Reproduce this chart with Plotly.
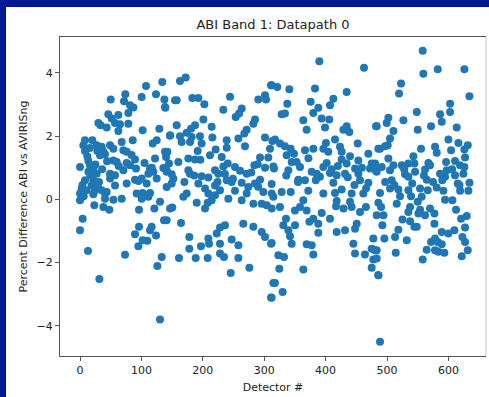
import plotly.graph_objects as go

# Detector index and percent difference
detector = [
    134, 107.5, 100.4, 123.8, 137.4, 139, 50, 73.8, 71.7, 81.4, 86.9, 78.7, 46.1, 51.6, 62.4, 29.9,
    33.6, 57, 65.1, 78.7, 43.4, 62.4, 102, 129.2, 146.6, 124.9, 118.4, 85.8, 67.9, 8.1, 20.1, 5.4,
    27.1, 35.3, 48.9, 54.3, 8.1, 28.2, 38, 70.6, 76, 32.6, 40.7, 142.3, 122.2, 140.1, 89.6, 54.3,
    59.7, 13.6, 76, 0, 16.3, 21.7, 81.4, 91.2, 70.6, 114, 135.7, 13.6, 27.1, 48.9, 57, 111.3,
    124.9, 119.4, 141.2, 8.1, 21.7, 48.9, 76, 89.6, 95, 100.4, 108.6, 57, 2.7, 19, 10.8, 24.4,
    35.3, 43.4, 0, 21.7, 40.7, 92.3, 102, 114, 111.3, 100.4, 54.3, 67.9, 0, 40.7, 130.3, 23.3,
    38, 47.8, 96.1, 121.1, 146.6, 136.8, 4.3, 0, 96.1, 89.6, 116.7, 114, 123.8, 102, 109.7, 95,
    13, 73.3, 133, 126, 31.5, 130.3,
    162.8, 172.1, 157.4, 154.7, 182.9, 192.7, 202.5, 244.3, 233.4, 253.5, 263.3, 259, 301.3, 290.4,
    302.9, 311.1, 138.4, 200.9, 285, 282.3, 157.4, 187.3, 180.8, 214.4, 173.7, 146.5, 162.8, 271.4,
    267.6, 257.9, 301.3, 195.4, 181.8, 215.5, 165.5, 179.1, 198.1, 238.9, 238.9, 268.7, 313.3, 191.6,
    220.9, 138.4, 211.7, 230.7, 176.4, 160.1, 144.9, 187.3, 240.5, 233.4, 293.2, 306.7, 289.4, 283.9,
    301.3, 314.9, 141.1, 176.4, 179.1, 219.9, 252.4, 260.6, 271.4, 225.3, 149.3, 198.1, 209, 238.9,
    247, 263.3, 285, 293.2, 149.3, 192.7, 219.9, 274.1, 141.1, 228, 203.6, 252.4, 173.7, 271.4,
    298.6, 312.2, 209, 219.9, 168.3, 241.6, 263.3, 214.4, 190, 207.9, 282.3, 295.9, 304, 150.3,
    203.6, 312.2, 141.1, 164.5, 228, 236.1, 266, 282.3, 295.9, 301.3, 311.1, 178, 209, 222.6,
    247, 257.9, 178, 197, 210.1, 228, 228, 234.5, 161.2, 188.4, 207.9, 257.9, 275.8, 245.4,
    314.9, 311.1,
    389.8, 462.5, 312.1, 321.3, 340.9, 382.7, 434.3, 375.6, 412.6, 407.1, 337.6, 388.1, 380, 328.4,
    333.8, 393.6, 406, 363.7, 369.1, 399, 434.3, 428.9, 438.6, 482.1, 415.3, 452.2, 317.5, 325.7,
    333.8, 309.4, 343.1, 366.4, 380, 400.6, 396.3, 423.4, 426.1, 348.5, 336.5, 404.4, 439.7, 469.6,
    485.9, 352.8, 344.7, 401.7, 426.1, 434.3, 453.3, 475, 315.9, 339.3, 358.3, 377.3, 385.4, 396.3,
    407.1, 418, 431.6, 447.9, 453.3, 472.3, 482.1, 355.6, 366.4, 390.8, 412.6, 456, 469.6, 312.1,
    328.4, 343.1, 371.8, 396.3, 415.3, 426.1, 442.4, 461.4, 314.8, 363.7, 418, 439.7, 325.7, 358.3,
    416.9, 429.1, 442.4, 465.7, 350.1, 369.1, 393.6, 456, 335.5, 380, 407.1, 483.2, 331.1, 350.1,
    373.5, 388.1, 450.6, 447.9, 339.3, 388.1, 418, 431.6, 342, 477.7, 344.7, 369.1, 377.3, 312.1,
    445.2, 447.9, 464.1, 475, 480.4, 380, 323, 332.2, 477.7, 475, 485.9, 324.6, 363.7, 317.5,
    330, 312.1,
    558.1, 559.2, 582.6, 626, 522.9, 519.6, 634.2, 602.7, 602.7, 586.4, 589.1, 548.4, 526.7, 502.2,
    499.5, 483.2, 571.7, 550, 613.5, 510.4, 504.9, 600, 616.3, 631.5, 501.1, 488.6, 496.8, 555.4,
    578.2, 581, 604.3, 626, 502.2, 542.9, 627.1, 480.5, 491.4, 510.4, 524, 534.8, 544.6, 567.4,
    596.2, 610.8, 619, 626, 483.2, 504.9, 529.4, 545.7, 561.9, 570.1, 586.4, 597.2, 594.5, 610.8,
    624.4, 507.6, 534.8, 564.7, 634.2, 615.2, 504.9, 518.5, 534.8, 553.8, 566.3, 580.9, 591.8, 619,
    632.5, 488.6, 521.2, 539.1, 556.5, 594.5, 606.5, 485.9, 515.8, 550, 537.5, 490.3, 553.8, 570.1,
    612.4, 494.1, 534.8, 561.9, 577.2, 525.1, 551.1, 620.6, 629.8, 492.4, 537.5, 544.6, 577.2, 518.5,
    548.4, 627.1, 589.1, 600, 609.7, 513.1, 495.7, 532.1, 622.8, 578.2, 571.7, 582.6, 589.1, 627.1,
    564.6, 578.2, 583.7, 593.4, 514.2, 483.2, 631.5, 621.7, 558.1, 483.2, 485.9, 488.6,
    # overlapping points inside the dense band
    4, 12, 17, 25, 31, 36, 44, 16, 6, 29, 63, 84, 105, 117, 152, 170, 186, 196, 224, 236,
    249, 279, 290, 336, 355, 372, 384, 410, 420, 436, 447, 459, 466, 497, 512, 528, 541, 560, 575, 590,
    606, 618,
]

pct_diff = [
    3.71, 3.58, 3.23, 3.32, 3.15, 2.89, 3.15, 3.32, 3.10, 2.97, 2.90, 2.73, 2.69, 2.55, 2.66, 2.41,
    2.34, 2.41, 2.37, 2.39, 2.27, 2.16, 2.18, 2.23, 2.02, 1.87, 1.76, 1.87, 1.81, 1.87, 1.87, 1.71,
    1.71, 1.66, 1.71, 1.60, 1.53, 1.53, 1.50, 1.55, 1.50, 1.39, 1.42, 1.50, 1.29, 1.34, 1.26, 1.23,
    1.18, 1.21, 1.15, 1.02, 1.08, 0.97, 1.08, 0.97, 0.92, 0.97, 0.99, 0.87, 0.81, 0.81, 0.76, 0.81,
    0.66, 0.87, 0.87, 0.60, 0.60, 0.66, 0.50, 0.62, 0.58, 0.66, 0.50, 0.44, 0.34, 0.44, 0.29, 0.29,
    0.29, 0.23, 0.18, 0.16, 0.18, 0.18, 0.20, 0.20, 0.08, 0.02, -0.01, 0.02, -0.03, 0.02, -0.08, -0.19,
    -0.24, -0.33, -0.33, -0.29, -0.29, -0.66, -0.61, -0.98, -0.87, -1.10, -0.87, -0.98, -1.14, -1.29, -1.31, -1.48,
    -1.63, -1.75, -1.82, -2.11, -2.52, -3.80,
    3.74, 3.85, 3.13, 3.13, 3.20, 3.20, 3.00, 3.24, 2.83, 2.60, 2.87, 2.71, 3.29, 3.15,
    3.15, 3.60, 2.92, 2.52, 2.52, 2.39, 2.34, 2.34, 2.23, 2.29, 2.10, 2.02, 1.99, 2.20,
    2.08, 1.92, 1.95, 1.99, 1.97, 1.95, 1.81, 1.81, 1.76, 1.87, 1.63, 1.68, 1.84, 1.53,
    1.57, 1.50, 1.39, 1.34, 1.29, 1.18, 1.13, 1.26, 1.13, 1.04, 1.32, 1.32, 1.11, 1.08,
    1.00, 1.04, 0.92, 0.92, 0.81, 0.92, 1.02, 0.90, 0.81, 0.81, 0.79, 0.73, 0.69, 0.60,
    0.55, 0.52, 0.50, 0.62, 0.50, 0.50, 0.44, 0.39, 0.39, 0.29, 0.34, 0.27, 0.18, 0.18,
    0.23, 0.18, 0.18, 0.13, 0.08, 0.02, -0.03, -0.03, -0.11, -0.11, -0.14, -0.14, -0.19, -0.26,
    -0.29, -0.29, -0.66, -0.75, -0.89, -0.82, -0.77, -0.87, -1.03, -1.19, -1.40, -1.19, -1.24, -1.08,
    -1.27, -1.45, -1.56, -1.48, -1.40, -1.40, -1.71, -1.82, -1.85, -1.85, -1.85, -1.85, -2.16, -2.33,
    -2.64, -3.10,
    4.36, 4.16, 3.60, 3.55, 3.48, 3.50, 3.39, 3.08, 3.18, 2.97, 3.02, 2.89, 2.73, 2.69,
    2.71, 2.55, 2.52, 2.50, 2.20, 2.27, 2.31, 2.20, 2.13, 2.31, 1.89, 1.76, 1.89, 1.76,
    1.68, 1.60, 1.60, 1.55, 1.60, 1.78, 1.60, 1.66, 1.50, 1.44, 1.39, 1.50, 1.36, 1.44,
    1.60, 1.18, 1.18, 1.15, 1.26, 1.13, 1.23, 1.13, 0.97, 0.92, 1.02, 0.87, 0.81, 1.02,
    0.83, 0.76, 0.81, 0.97, 0.81, 0.97, 0.90, 0.62, 0.60, 0.71, 0.52, 0.60, 0.52, 0.48,
    0.23, 0.23, 0.27, 0.18, 0.20, 0.31, 0.18, 0.18, 0.08, -0.03, -0.05, -0.08, -0.24, -0.24,
    -0.22, -0.29, -0.24, -0.24, -0.35, -0.35, -0.43, -0.40, -0.61, -0.61, -0.61, -0.50, -0.82, -0.82,
    -0.71, -0.77, -0.77, -0.93, -0.98, -1.06, -1.03, -0.98, -1.17, -1.24, -1.40, -1.42, -1.45, -1.38,
    -1.40, -1.71, -1.74, -1.56, -1.61, -1.74, -1.77, -1.82, -1.90, -2.16, -2.40, -2.19, -2.22, -2.64,
    -2.93, -3.11,
    4.69, 3.97, 4.11, 4.11, 3.66, 3.34, 3.26, 3.02, 2.76, 2.69, 2.45, 2.76, 2.50, 2.58,
    2.41, 2.31, 2.31, 2.20, 2.27, 2.16, 1.92, 1.89, 1.78, 1.71, 1.71, 1.60, 1.68, 1.60,
    1.66, 1.47, 1.55, 1.57, 1.29, 1.36, 1.32, 1.13, 1.02, 1.08, 1.08, 1.13, 1.13, 1.15,
    1.18, 1.21, 1.08, 1.02, 0.87, 0.92, 0.79, 0.87, 0.94, 1.08, 0.81, 0.92, 0.71, 0.76,
    0.81, 0.60, 0.71, 0.62, 0.52, 0.50, 0.34, 0.31, 0.29, 0.34, 0.29, 0.37, 0.27, 0.27,
    0.27, 0.20, 0.10, 0.10, 0.08, -0.01, -0.03, -0.11, -0.14, -0.08, -0.24, -0.24, -0.33, -0.29,
    -0.33, -0.50, -0.40, -0.50, -0.45, -0.64, -0.45, -0.61, -0.53, -0.82, -0.69, -0.87, -0.77, -0.96,
    -0.87, -0.89, -1.03, -1.08, -0.98, -1.19, -1.24, -1.29, -1.19, -1.24, -1.35, -1.35, -1.42, -1.35,
    -1.59, -1.61, -1.66, -1.69, -1.69, -1.61, -1.61, -1.80, -1.90, -1.87, -2.40, -4.50,
    # overlapping points inside the dense band
    0.45, 1.35, 0.75, 1.10, 0.55, 0.95, 1.20, 1.62, 0.10, 0.40, 1.05, 1.40, 1.15, 1.00, 0.65, 0.55,
    0.75, 1.25, 0.55, 0.80, 0.65, 0.85, 0.40, 0.75, 0.55, 1.30, 0.60, 0.95, 1.05, 0.70, 0.45, 1.00,
    0.35, 0.55, 0.45, 0.95, 0.50, 0.75, 0.55, 0.60, 0.95, 0.45,
]

x_ticks = [0, 100, 200, 300, 400, 500, 600]
y_ticks = [-4, -2, 0, 2, 4]

fig = go.Figure(
    go.Scatter(
        x=detector, y=pct_diff, mode="markers",
        marker=dict(size=8, color="#1f77b4", line=dict(width=0)),
    )
)

W, H = 489, 397
L, R, T, B = 60, 3, 37, 41
pw, ph = W - L - R, H - T - B

def px_x(p):
    return (p - L) / pw

def px_y(p):
    return (H - B - p) / ph

navy = "#001896"
fig.update_layout(
    width=W, height=H,
    margin=dict(l=L, r=R, t=T, b=B, pad=0),
    paper_bgcolor=navy,
    plot_bgcolor="white",
    showlegend=False,
    font=dict(family="DejaVu Sans", size=11, color="#222222"),
    title=dict(text="ABI Band 1: Datapath 0", x=0.5, xref="paper", xanchor="center",
               y=1 - 24 / H, yanchor="middle", font=dict(size=13, color="#222222")),
    shapes=[
        dict(type="rect", xref="paper", yref="paper", layer="below",
             x0=px_x(6), x1=px_x(W + 2), y0=px_y(7), y1=px_y(H + 2),
             fillcolor="white", line=dict(width=0)),
        dict(type="line", xref="paper", yref="paper", layer="above",
             x0=1, x1=1, y0=0, y1=1, line=dict(color="#c8c8c8", width=1)),
    ],
)
fig.update_xaxes(
    range=[-32.6, 661.2], tickvals=x_ticks, showgrid=False, zeroline=False,
    showline=True, mirror=True, linecolor="#555555", linewidth=1,
    ticks="outside", ticklen=4, tickcolor="#555555",
    title=dict(text="Detector #", standoff=7, font=dict(size=11)),
)
fig.update_yaxes(
    range=[-4.95, 5.128], tickvals=y_ticks, showgrid=False, zeroline=False,
    showline=True, mirror=False, linecolor="#555555", linewidth=1,
    ticks="outside", ticklen=4, tickcolor="#555555",
    title=dict(text="Percent Difference ABI vs AVIRISng", standoff=6, font=dict(size=11)),
)

fig.write_html(
    "out.html",
    config={"displayModeBar": False},
    post_script="document.body.style.margin='0';document.body.style.background='%s';" % navy,
)
